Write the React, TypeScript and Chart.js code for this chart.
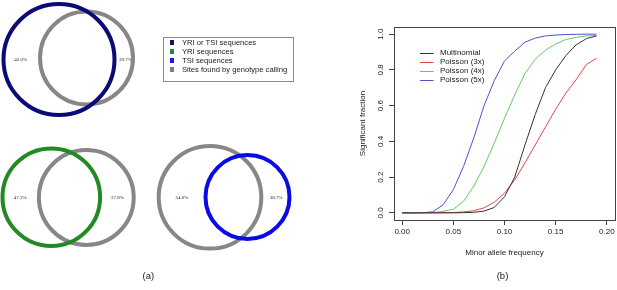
import React, { useEffect, useRef } from 'react';
import { Chart, registerables } from 'chart.js';

Chart.register(...registerables);

// ---------- Panel (a): Venn diagrams (pixel-unit data space 300 x 290) ----------
const vennCircleX = [59, 86.5, 51.3, 86.3, 210, 247.5];
const vennCircleY = [59.5, 58, 197.2, 197.5, 197.3, 197];
const vennCircleR = [55.5, 46.5, 48.8, 47.4, 51.3, 42];
const vennCircleKind = ['either', 'genotype', 'yri', 'genotype', 'genotype', 'tsi'];

const vennLabelText = ['42.0%', '39.7%', '47.3%', '37.8%', '54.0%', '38.7%'];
const vennLabelX = [20.7, 125.5, 20.2, 117.5, 182, 276.2];
const vennLabelY = [60, 60, 197.7, 197.7, 197.7, 197.7];

const vennLegendLabels = [
  'YRI or TSI sequences',
  'YRI sequences',
  'TSI sequences',
  'Sites found by genotype calling',
];
const vennLegendKinds = ['either', 'yri', 'tsi', 'genotype'];

// ---------- Panel (b): significant fraction vs minor allele frequency ----------
const maf = [0.0, 0.01, 0.02, 0.03, 0.04, 0.05, 0.06, 0.07, 0.08, 0.09, 0.1, 0.11, 0.12, 0.13, 0.14, 0.15, 0.16, 0.17, 0.18, 0.19];
const multinomial = [0, 0, 0, 0, 0, 0, 0.001, 0.003, 0.01, 0.03, 0.09, 0.2, 0.38, 0.55, 0.7, 0.8, 0.88, 0.94, 0.975, 0.99];
const poisson3x = [0, 0, 0, 0, 0.001, 0.002, 0.005, 0.012, 0.028, 0.06, 0.11, 0.185, 0.28, 0.38, 0.48, 0.58, 0.67, 0.745, 0.83, 0.865];
const poisson4x = [0, 0, 0, 0.002, 0.008, 0.02, 0.065, 0.15, 0.26, 0.39, 0.53, 0.66, 0.78, 0.86, 0.91, 0.945, 0.97, 0.982, 0.99, 0.993];
const poisson5x = [0, 0, 0.001, 0.006, 0.045, 0.13, 0.26, 0.42, 0.6, 0.74, 0.85, 0.905, 0.955, 0.978, 0.99, 0.995, 0.998, 0.999, 1.0, 1.0];
const seriesNames = ['Multinomial', 'Poisson (3x)', 'Poisson (4x)', 'Poisson (5x)'];
const xTicks = [0, 0.05, 0.1, 0.15, 0.2];
const yTicks = [0, 0.2, 0.4, 0.6, 0.8, 1.0];

// ---------- styles ----------
const SANS = "'Liberation Sans', Arial, Helvetica, sans-serif";
const SERIF = "'Liberation Serif', 'Times New Roman', serif";
const vennColors: Record<string, string> = {
  either: '#0b0b78',
  yri: '#228a22',
  tsi: '#0a0ae6',
  genotype: '#878787',
};
const legendSquareColors: Record<string, string> = {
  either: '#12125e',
  yri: '#2f8048',
  tsi: '#1a1ae0',
  genotype: '#7d7d7d',
};
const lineColors = ['#333333', '#e04848', '#62cc62', '#5050d8'];
const axisColor = '#444444';
const textColor = '#222222';

const vennLabelPlugin = {
  id: 'vennLabels',
  beforeDatasetsDraw(chart: any) {
    const { ctx, scales } = chart;
    ctx.save();
    ctx.font = `5px ${SERIF}`;
    ctx.fillStyle = textColor;
    ctx.textAlign = 'center';
    ctx.textBaseline = 'middle';
    vennLabelText.forEach((t, i) => {
      ctx.fillText(t, scales.x.getPixelForValue(vennLabelX[i]), scales.y.getPixelForValue(vennLabelY[i]));
    });
    ctx.restore();
  },
};

const boxAndLegendPlugin = {
  id: 'boxAndLegend',
  afterDatasetsDraw(chart: any) {
    const { ctx, chartArea } = chart;
    ctx.save();
    ctx.strokeStyle = axisColor;
    ctx.lineWidth = 1;
    ctx.strokeRect(
      Math.round(chartArea.left) + 0.5,
      Math.round(chartArea.top) + 0.5,
      Math.round(chartArea.right - chartArea.left),
      Math.round(chartArea.bottom - chartArea.top)
    );
    // legend (no box), placed in the upper left of the plot region
    const x0 = chartArea.left + 26;
    const y0 = chartArea.top + 25.7;
    ctx.font = `8px ${SANS}`;
    ctx.textBaseline = 'middle';
    ctx.textAlign = 'left';
    chart.data.datasets.forEach((ds: any, i: number) => {
      const y = Math.round(y0 + i * 9) + 0.5;
      ctx.strokeStyle = ds.borderColor;
      ctx.beginPath();
      ctx.moveTo(x0, y);
      ctx.lineTo(x0 + 13.5, y);
      ctx.stroke();
      ctx.fillStyle = textColor;
      ctx.fillText(ds.label, x0 + 20, y0 + i * 9);
    });
    ctx.restore();
  },
};

export default function App() {
  const vennRef = useRef<HTMLCanvasElement>(null);
  const lineRef = useRef<HTMLCanvasElement>(null);

  useEffect(() => {
    const vennChart = new Chart(vennRef.current as HTMLCanvasElement, {
      type: 'bubble',
      data: {
        datasets: vennCircleX.map((x, i) => ({
          data: [{ x, y: vennCircleY[i], r: vennCircleR[i] }],
          borderColor: vennColors[vennCircleKind[i]],
          backgroundColor: 'rgba(0,0,0,0)',
          borderWidth: 4,
          hoverBorderWidth: 4,
          clip: false as any,
          order: vennCircleKind[i] === 'genotype' ? 1 : 0,
        })),
      },
      options: {
        responsive: false,
        animation: false,
        events: [],
        layout: { padding: 0, autoPadding: false },
        scales: {
          x: { type: 'linear', min: 0, max: 300, display: false },
          y: { type: 'linear', min: 0, max: 290, reverse: true, display: false },
        },
        plugins: { legend: { display: false }, tooltip: { enabled: false } },
      },
      plugins: [vennLabelPlugin],
    } as any);

    const series = [multinomial, poisson3x, poisson4x, poisson5x];
    const tickFont = { family: SANS, size: 8 };
    const lineChart = new Chart(lineRef.current as HTMLCanvasElement, {
      type: 'line',
      data: {
        datasets: series.map((s, i) => ({
          label: seriesNames[i],
          data: maf.map((x, j) => ({ x, y: s[j] })),
          borderColor: lineColors[i],
          borderWidth: 1,
          pointRadius: 0,
          fill: false,
          tension: 0,
        })),
      },
      options: {
        responsive: false,
        animation: false,
        events: [],
        layout: { padding: { left: 0, right: 2, top: 27, bottom: 0 }, autoPadding: false },
        scales: {
          x: {
            type: 'linear',
            min: -0.008,
            max: 0.208,
            afterBuildTicks: (a: any) => {
              a.ticks = xTicks.map((v) => ({ value: v }));
            },
            afterFit: (s: any) => {
              s.height = 70;
            },
            grid: { drawOnChartArea: false, drawTicks: true, tickLength: 5, color: axisColor, lineWidth: 1 },
            border: { display: true, color: axisColor, width: 1 },
            ticks: {
              padding: 2,
              color: textColor,
              font: tickFont,
              autoSkip: false,
              maxRotation: 0,
              minRotation: 0,
              callback: (v: any) => Number(v).toFixed(2),
            },
            title: {
              display: true,
              text: 'Minor allele frequency',
              color: textColor,
              font: { family: SANS, size: 8, lineHeight: 1.2 },
              padding: { top: 0, bottom: 32.5 },
            },
          },
          y: {
            type: 'linear',
            min: -0.04,
            max: 1.04,
            afterBuildTicks: (a: any) => {
              a.ticks = yTicks.map((v) => ({ value: v }));
            },
            afterFit: (s: any) => {
              s.width = 94;
            },
            grid: { drawOnChartArea: false, drawTicks: true, tickLength: 5, color: axisColor, lineWidth: 1 },
            border: { display: true, color: axisColor, width: 1 },
            ticks: {
              padding: 2.5,
              color: textColor,
              font: tickFont,
              autoSkip: false,
              minRotation: 90,
              maxRotation: 90,
              crossAlign: 'center',
              callback: (v: any) => Number(v).toFixed(1),
            },
            title: {
              display: true,
              text: 'Significant fraction',
              color: textColor,
              font: { family: SANS, size: 8, lineHeight: 1.2 },
              padding: { top: 57.9, bottom: 0 },
            },
          },
        },
        plugins: { legend: { display: false }, tooltip: { enabled: false } },
      },
      plugins: [boxAndLegendPlugin],
    } as any);

    return () => {
      vennChart.destroy();
      lineChart.destroy();
    };
  }, []);

  return (
    <div style={{ position: 'absolute', left: 0, top: 0, width: 617, height: 290, background: '#fff', overflow: 'hidden' }}>
      <canvas
        ref={vennRef}
        width={300}
        height={290}
        style={{ position: 'absolute', left: 0, top: 0, width: 300, height: 290 }}
      />
      <canvas
        ref={lineRef}
        width={317}
        height={290}
        style={{ position: 'absolute', left: 300, top: 0, width: 317, height: 290 }}
      />
      <div
        style={{
          position: 'absolute',
          left: 163,
          top: 37,
          width: 131,
          height: 45,
          boxSizing: 'border-box',
          border: '1px solid #8a8a8a',
          fontFamily: SANS,
          fontSize: 7.6,
          color: textColor,
        }}
      >
        {vennLegendLabels.map((label, i) => (
          <div
            key={label}
            style={{ position: 'absolute', left: 0, top: 4.7 + i * 9 - 4.5, height: 9, lineHeight: '9px', whiteSpace: 'nowrap' }}
          >
            <span
              style={{
                position: 'absolute',
                left: 5.5,
                top: 2.2,
                width: 4.6,
                height: 4.6,
                background: legendSquareColors[vennLegendKinds[i]],
              }}
            />
            <span style={{ position: 'absolute', left: 18, top: 0 }}>{label}</span>
          </div>
        ))}
      </div>
      <div
        style={{
          position: 'absolute',
          left: 148.3,
          top: 275.3,
          transform: 'translate(-50%, -50%)',
          fontFamily: SANS,
          fontSize: 9.5,
          color: textColor,
          whiteSpace: 'nowrap',
        }}
      >
        (a)
      </div>
      <div
        style={{
          position: 'absolute',
          left: 502.5,
          top: 274.7,
          transform: 'translate(-50%, -50%)',
          fontFamily: SANS,
          fontSize: 9.5,
          color: textColor,
          whiteSpace: 'nowrap',
        }}
      >
        (b)
      </div>
    </div>
  );
}
